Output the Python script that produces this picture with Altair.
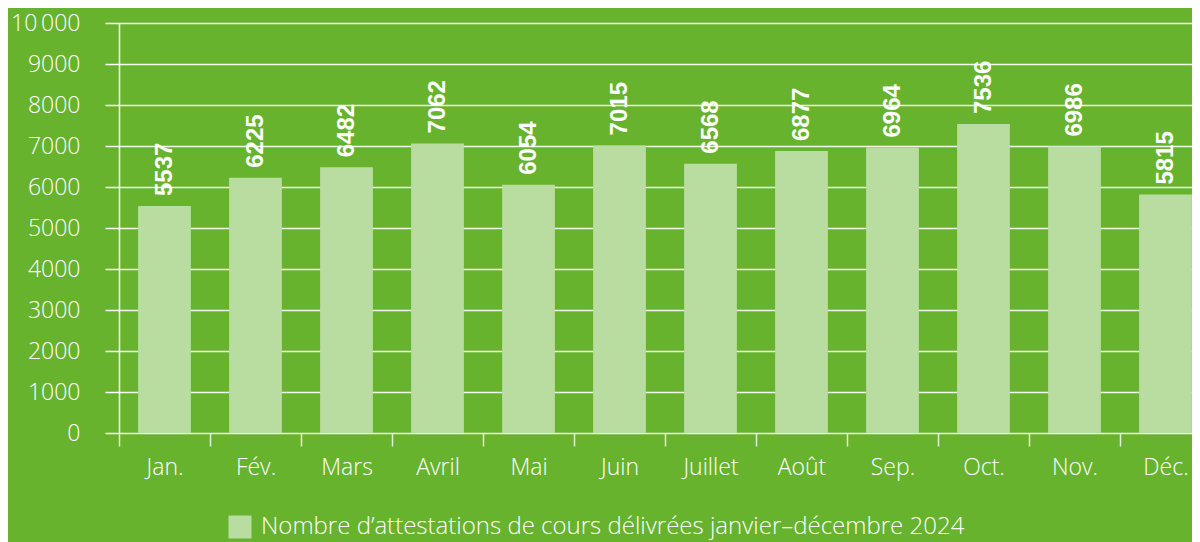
import altair as alt
import pandas as pd

months = ["Jan.", "Fév.", "Mars", "Avril", "Mai", "Juin", "Juillet", "Août", "Sep.", "Oct.", "Nov.", "Déc."]
values = [5537, 6225, 6482, 7062, 6054, 7015, 6568, 6877, 6964, 7536, 6986, 5815]
series_name = "Nombre d\u2019attestations de cours délivrées janvier\u2013décembre 2024"
y_ticks = list(range(0, 10001, 1000))

df = pd.DataFrame({"mois": months, "n": values, "serie": [series_name] * len(months)})

BG = "#67b32e"
BAR = "#b9dca0"
FONT = "Open Sans"
LINE = "#ffffff"

x_enc = alt.X(
    "mois:N",
    sort=months,
    title=None,
    scale=alt.Scale(range=[0, 1092], paddingInner=0, paddingOuter=0),
    axis=alt.Axis(
        domain=False,
        ticks=True,
        tickBand="extent",
        tickSize=13,
        tickColor="#e4f1da",
        tickWidth=1.5,
        labelAngle=0,
        labelFontSize=23,
        labelFont=FONT,
        labelFontWeight=300,
        labelColor="white",
        labelPadding=10,
        grid=False,
    ),
)
y_enc = alt.Y(
    "n:Q",
    title=None,
    scale=alt.Scale(domain=[0, 10000], nice=False),
    axis=alt.Axis(
        values=y_ticks,
        format="d",
        labelExpr="datum.value == 10000 ? '10\u2009000' : datum.label",
        domain=True,
        domainColor=LINE,
        domainWidth=1.5,
        ticks=True,
        tickSize=14,
        tickColor=LINE,
        tickWidth=1.5,
        grid=True,
        gridColor=LINE,
        gridWidth=1.5,
        gridOpacity=0.9,
        labelFontSize=23,
        labelFont=FONT,
        labelFontWeight=300,
        labelColor="white",
        labelPadding=25,
    ),
)

bars = alt.Chart(df).mark_bar(opacity=1, width=alt.RelativeBandSize(0.58)).encode(
    x=x_enc,
    y=y_enc,
    color=alt.Color(
        "serie:N",
        scale=alt.Scale(range=[BAR]),
        legend=alt.Legend(
            title=None,
            orient="none",
            legendX=109,
            legendY=492,
            symbolType="square",
            symbolSize=529,
            symbolStrokeWidth=0,
            symbolOpacity=1,
            labelFontSize=24,
            labelFont=FONT,
            labelFontWeight=300,
            labelColor="white",
            labelOffset=9,
            labelLimit=1000,
            padding=0,
        ),
    ),
)

labels = alt.Chart(df).mark_text(
    angle=270,
    align="left",
    baseline="middle",
    dx=10,
    fontSize=24,
    fontWeight="bold",
    font="Liberation Sans",
    color="white",
).encode(
    x=alt.X("mois:N", sort=months),
    y=alt.Y("n:Q"),
    text=alt.Text("n:Q", format="d"),
)

chart = (
    alt.layer(bars, labels)
    .properties(
        width=1073,
        height=410,
        padding={"left": 111, "top": 15, "right": 0, "bottom": 109},
        autosize=alt.AutoSizeParams(type="none"),
        background=BG,
    )
    .configure_view(stroke=None)
)

chart.save("out.html", embed_options={"renderer": "svg", "actions": False})
